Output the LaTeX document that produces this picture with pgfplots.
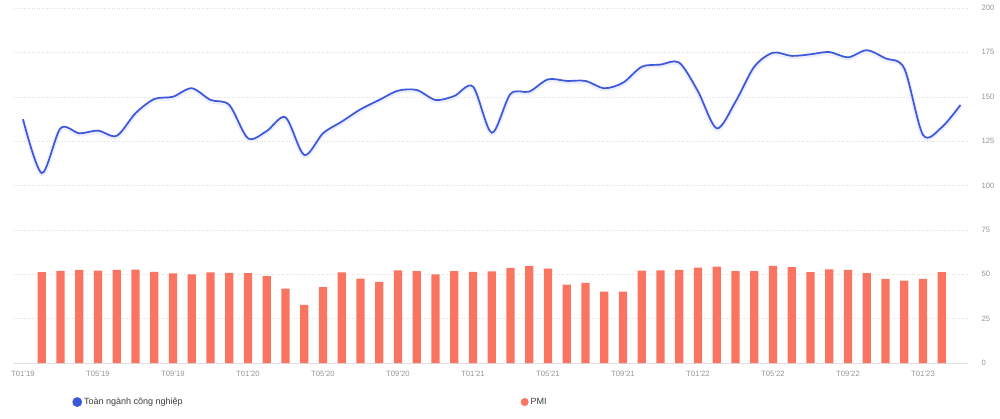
\documentclass[border=0pt]{standalone}
\usepackage{fontspec}
\setmainfont{Liberation Sans}
\usepackage{pgfplots}
\usepackage{pgfplotstable}
\pgfplotsset{compat=1.18}

\definecolor{lineblue}{RGB}{62,88,218}
\definecolor{barred}{RGB}{250,117,97}
\definecolor{ticktext}{RGB}{150,150,150}
\definecolor{gridc}{RGB}{222,222,222}
\definecolor{legtext}{RGB}{60,60,60}

% industrial production index, months from T01'19 (index 0)
\pgfplotstableread{
i v
0 137.3
1 107.0
2 132.2
3 129.4
4 130.9
5 128.0
6 140.7
7 148.7
8 150.0
9 154.8
10 148.2
11 145.4
12 126.6
13 130.7
14 138.4
15 117.2
16 129.4
17 136.0
18 142.9
19 148.2
20 153.4
21 153.8
22 148.2
23 150.4
24 155.7
25 129.7
26 151.6
27 152.9
28 159.8
29 158.9
30 158.9
31 154.8
32 157.9
33 166.9
34 168.1
35 169.2
36 153.0
37 132.2
38 147.2
39 166.9
40 174.8
41 173.0
42 173.9
43 175.2
44 172.2
45 176.2
46 171.6
47 166.0
48 128.5
49 132.8
50 145.4
}\iipdata

% PMI, T02'19 .. T02'23
\pgfplotstableread{
i v
1 51.2
2 51.9
3 52.5
4 52.0
5 52.5
6 52.6
7 51.4
8 50.5
9 50.0
10 51.0
11 50.8
12 50.6
13 49.0
14 41.9
15 32.7
16 42.7
17 51.1
18 47.6
19 45.7
20 52.2
21 51.8
22 49.9
23 51.7
24 51.3
25 51.6
26 53.6
27 54.7
28 53.1
29 44.1
30 45.1
31 40.2
32 40.2
33 52.1
34 52.2
35 52.5
36 53.7
37 54.3
38 51.7
39 51.7
40 54.7
41 54.0
42 51.2
43 52.7
44 52.5
45 50.6
46 47.4
47 46.4
48 47.4
49 51.2
}\pmidata

\begin{document}
\begin{tikzpicture}[x=1pt,y=1pt]
\path[use as bounding box] (0,0) rectangle (1000,418);
\begin{axis}[
  at={(14pt,55pt)}, anchor=south west,
  scale only axis, width=954pt, height=355pt,
  xmin=-0.48, xmax=50.4, ymin=0, ymax=200,
  xtick={0,4,...,48},
  xticklabels={T01'19,T05'19,T09'19,T01'20,T05'20,T09'20,T01'21,T05'21,T09'21,T01'22,T05'22,T09'22,T01'23},
  ytick={0,25,...,200},
  yticklabel pos=right,
  /pgf/number format/assume math mode=true,
  ymajorgrids, grid style={gridc, dash pattern=on 1pt off 1.5pt},
  extra y ticks={0}, extra y tick labels={},
  extra y tick style={grid style={gridc, solid}},
  axis line style={draw=none},
  major tick length=0pt,
  tick label style={font=\fontsize{7.7}{9}\selectfont, text=ticktext},
  xticklabel style={yshift=-5pt},
  yticklabel style={anchor=west, xshift=10pt},
  legend style={at={(axis description cs:0.061,-0.11)}, anchor=west,
    draw=none, fill=none, inner sep=0pt,
    font=\fontsize{9}{10}\selectfont, text=legtext,
    /tikz/every even column/.append style={column sep=336pt}},
  legend columns=2,
]
\addplot[forget plot, smooth, line width=4.5pt, lineblue!10, yshift=-1pt] table[x=i,y=v] {\iipdata};
\addplot[smooth, line width=1.7pt, lineblue,
  legend image code/.code={\fill[lineblue] (4pt,0pt) circle (4pt);}] table[x=i,y=v] {\iipdata};
\addlegendentry{Toàn ngành công nghiệp}
\addplot[ybar, bar width=8.3pt, fill=barred, draw=none,
  legend image code/.code={\fill[barred] (4pt,0pt) circle (4pt);}] table[x=i,y=v] {\pmidata};
\addlegendentry{PMI}
\end{axis}
\end{tikzpicture}
\end{document}
